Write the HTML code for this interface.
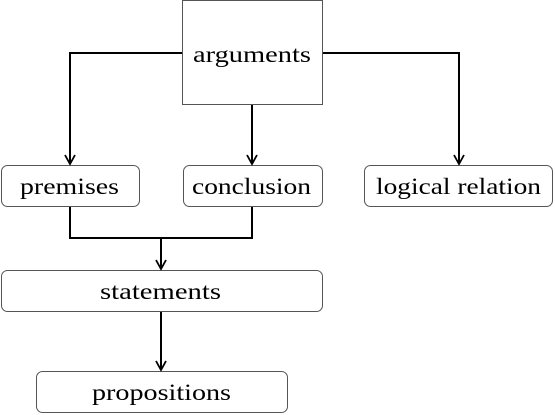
<!DOCTYPE html>
<html><head><style>body{margin:0;background:#fff}svg{display:block}text{font-family:"Liberation Serif","Times New Roman","DejaVu Serif","Noto Serif CJK SC",serif;font-size:23px}</style></head>
<body>
<svg width="555" height="415" viewBox="0 0 555 415" xmlns="http://www.w3.org/2000/svg" fill="#000">
<g fill="#fff" stroke="#555" stroke-width="1">
<rect x="182.5" y="0.5" width="140" height="104"/>
<rect x="1.5" y="165.5" width="138" height="41" rx="6"/>
<rect x="183.5" y="165.5" width="139" height="41" rx="6"/>
<rect x="364.5" y="165.5" width="188" height="41" rx="6"/>
<rect x="1.5" y="270.5" width="321" height="41" rx="6"/>
<rect x="36.5" y="371.5" width="251" height="41" rx="6"/>
</g>
<g fill="none" stroke="#000" stroke-width="2">
<polyline points="182,53 70,53 70,163"/>
<line x1="252" y1="105" x2="252" y2="163"/>
<polyline points="323,53 459,53 459,163"/>
<polyline points="70,207 70,238 252,238 252,207"/>
<line x1="161" y1="238" x2="161" y2="268"/>
<line x1="161" y1="312" x2="161" y2="369"/>
<g stroke-width="1.8">
<polyline points="65,155 70,164 75,155"/>
<polyline points="247,155 252,164 257,155"/>
<polyline points="454,155 459,164 464,155"/>
<polyline points="156,260 161,269 166,260"/>
<polyline points="156,361 161,370 166,361"/>
</g>
</g>
<text x="193" y="62" textLength="118" lengthAdjust="spacingAndGlyphs">arguments</text>
<text x="20" y="194" textLength="99" lengthAdjust="spacingAndGlyphs">premises</text>
<text x="192" y="194" textLength="119" lengthAdjust="spacingAndGlyphs">conclusion</text>
<text x="376" y="194" textLength="165" lengthAdjust="spacingAndGlyphs">logical relation</text>
<text x="100" y="299" textLength="121" lengthAdjust="spacingAndGlyphs">statements</text>
<text x="92" y="400" textLength="139" lengthAdjust="spacingAndGlyphs">propositions</text>
</svg>
</body></html>
